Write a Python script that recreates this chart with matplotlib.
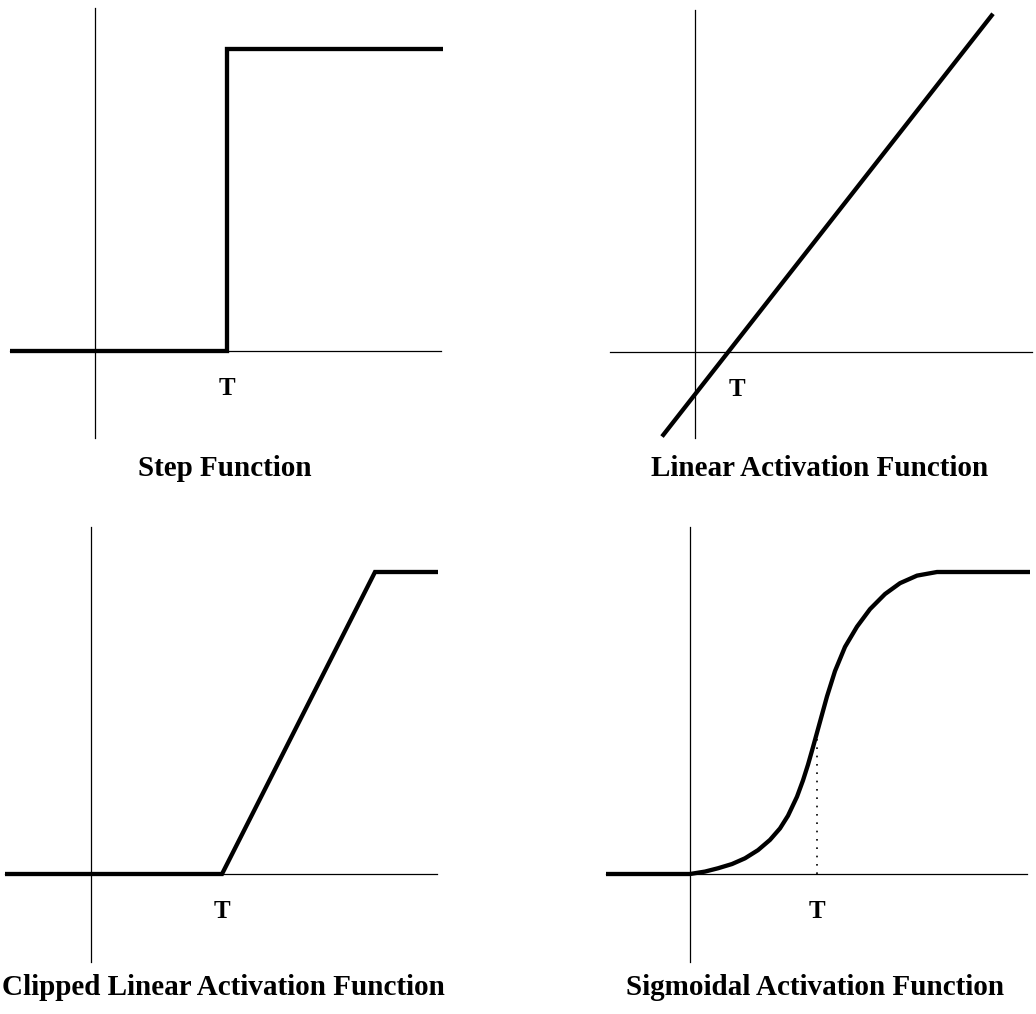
import numpy as np
import matplotlib
matplotlib.use("Agg")
import matplotlib.pyplot as plt

# ---- data (x: units of threshold axis, y: fraction of saturation level) ----
step_x = [-0.85, 1.32, 1.32, 3.48]
step_y = [0.0, 0.0, 1.0, 1.0]
step_T = 1.32

lin_x = [-0.33, 2.98]
lin_y = [-0.28, 1.12]
lin_T = 0.42          # label sits just right of the crossing

clip_x = [-0.86, 1.31, 2.84, 3.47]
clip_y = [0.0, 0.0, 1.0, 1.0]
clip_T = 1.31

sig_x = [-0.84, 0.00, 0.15, 0.28, 0.42, 0.55, 0.68, 0.80, 0.90, 0.98, 1.07,
         1.13, 1.18, 1.23, 1.28, 1.37, 1.45, 1.55, 1.67, 1.80, 1.95, 2.10,
         2.27, 2.47, 3.40]
sig_y = [0.000, 0.000, 0.008, 0.019, 0.033, 0.052, 0.079, 0.113, 0.151, 0.193,
         0.256, 0.310, 0.362, 0.420, 0.480, 0.588, 0.672, 0.752, 0.819, 0.877,
         0.927, 0.963, 0.988, 1.000, 1.000]
sig_T = 1.27

titles = ["Step Function", "Linear Activation Function",
          "Clipped Linear Activation Function", "Sigmoidal Activation Function"]

W, H = 1036, 1014
SX, SY = 100.0, 302.0   # pixels per unit

# panel layout: box (px), origin (px), axis extents, title placement
panels = [
    dict(box=(0, 0, 518, 507), origin=(95, 351), vspan=(-0.288, 1.136), hspan=(-0.85, 3.46),
         title=(1.30, -0.415)),
    dict(box=(518, 0, 1036, 507), origin=(695, 352), vspan=(-0.285, 1.132), hspan=(-0.85, 3.37),
         title=(1.25, -0.41)),
    dict(box=(0, 507, 518, 1014), origin=(91, 874), vspan=(-0.291, 1.149), hspan=(-0.86, 3.46),
         title=(1.32, -0.40)),
    dict(box=(518, 507, 1036, 1014), origin=(690, 874), vspan=(-0.291, 1.149), hspan=(-0.84, 3.37),
         title=(1.25, -0.40)),
]

serif = ["Liberation Serif", "DejaVu Serif"]
thick = dict(color="black", lw=3.1, solid_joinstyle="miter", solid_capstyle="butt")
thin = dict(color="black", lw=0.9)

fig = plt.figure(figsize=(W / 100, H / 100), dpi=100)
fig.patch.set_facecolor("white")

axes = []
for p in panels:
    bx0, by0, bx1, by1 = p["box"]
    ox, oy = p["origin"]
    ax = fig.add_axes([bx0 / W, 1 - by1 / H, (bx1 - bx0) / W, (by1 - by0) / H])
    ax.set_xlim((bx0 - ox) / SX, (bx1 - ox) / SX)
    ax.set_ylim((oy - by1) / SY, (oy - by0) / SY)
    ax.axis("off")
    # coordinate axes
    ax.plot([0, 0], p["vspan"], **thin)
    ax.plot(p["hspan"], [0, 0], **thin)
    axes.append(ax)

ax1, ax2, ax3, ax4 = axes

ax1.plot(step_x, step_y, **thick)
ax2.plot(lin_x, lin_y, **thick)
ax3.plot(clip_x, clip_y, **thick)
ax4.plot(sig_x, sig_y, color="black", lw=3.1, solid_joinstyle="round",
         solid_capstyle="butt")

# dotted drop line at the threshold of the sigmoid
ax4.plot([sig_T, sig_T], [0, np.interp(sig_T, sig_x, sig_y) - 0.01],
         color="black", lw=1.2, linestyle=(0, (1, 4)))

for ax, t in zip(axes, [step_T, lin_T, clip_T, sig_T]):
    ax.text(t, -0.145, "T", ha="center", va="baseline", fontsize=18,
            fontweight="bold", family=serif)

for ax, p, title in zip(axes, panels, titles):
    ax.text(p["title"][0], p["title"][1], title, ha="center", va="baseline",
            fontsize=21, fontweight="bold", family=serif, clip_on=False)

fig.savefig("out.png", dpi=100, facecolor="white")
